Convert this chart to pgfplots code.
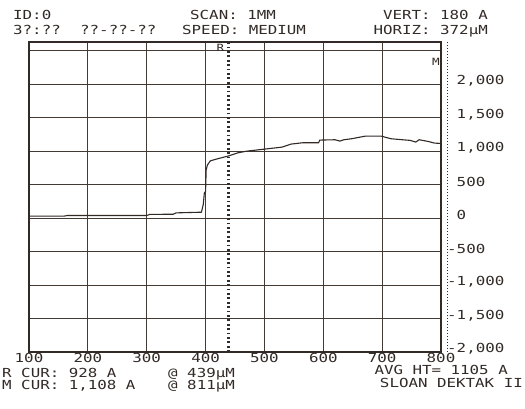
\documentclass[border=0pt]{standalone}
\usepackage{fontspec}
\usepackage{pgfplots}
\pgfplotsset{compat=1.18}
\newfontfamily\dm[FakeStretch=1.27]{DejaVu Sans Mono}
\definecolor{ink}{RGB}{50,42,38}
\definecolor{gridink}{RGB}{68,58,52}
\newcommand{\prn}{\dm\fontsize{12.5}{12.5}\selectfont}
\newcommand{\prnsmall}{\dm\fontsize{10}{10}\selectfont}

% profile trace: scan position (um) vs height (A)
\pgfplotstableread{
x    h
100  30
160  30
165  38
300  38
305  55
345  58
350  78
393  88
396  200
398  380
400  395
401  720
403  790
408  855
420  885
439  928
455  975
470  1000
500  1030
530  1060
545  1105
565  1125
592  1125
594  1165
620  1170
628  1150
635  1170
648  1185
672  1225
698  1225
715  1185
748  1160
757  1135
763  1170
778  1145
789  1120
800  1115
}\profile

\begin{document}
\begin{tikzpicture}[x=1bp,y=1bp]
\useasboundingbox (0,0) rectangle (525,408);
\begin{axis}[
  at={(29bp,56bp)}, anchor=south west,
  scale only axis, width=412bp, height=310bp,
  xmin=100, xmax=800, ymin=-2000, ymax=2630,
  clip=false,
  axis line style={draw=ink, line width=1.7bp},
  grid=major,
  major grid style={draw=gridink, line width=1bp},
  major tick length=0pt,
  tick style={draw=none},
  xtick={100,200,...,800},
  xticklabels={100,200,300,400,500,600,700,800},
  ytick={-2000,-1500,...,2500},
  yticklabels={{-2,000},{-1,500},{-1,000},{-500},{\phantom{-}0},{\phantom{-}500},{\phantom{-}1,000},{\phantom{-}1,500},{\phantom{-}2,000},{}},
  yticklabel pos=right,
  tick label style={font=\prn, text=ink, inner sep=0pt},
  xticklabel style={anchor=north, yshift=-1bp},
  yticklabel style={anchor=west, xshift=6bp, yshift=3bp},
]
% scan trace
\addplot[draw=ink, line width=1.1bp] table[x=x, y=h] {\profile};
% reference cursor R
\addplot[draw=ink, line width=2.2bp, dash pattern=on 1.8bp off 2.6bp] coordinates {(439,-2000) (439,2630)};
% measurement cursor M
\addplot[draw=ink, line width=1.6bp, dash pattern=on 1.3bp off 1.7bp] coordinates {(811,-2000) (811,2630)};
\node[anchor=north east, inner sep=0pt, font=\prnsmall, text=ink] at (axis cs:439,2630) [xshift=-4bp, yshift=-2.5bp] {R};
\node[anchor=north east, inner sep=0pt, font=\prnsmall, text=ink] at (axis cs:800,2390) [xshift=-1bp] {M};
\end{axis}
% header
\begin{scope}[every node/.style={inner sep=0pt, font=\prn, text=ink}]
\node[anchor=base west] at (13,388) {ID:0};
\node[anchor=base west] at (13,374) {3?:??};
\node[anchor=base west] at (80,374) {??-??-??};
\node[anchor=base west] at (190,388) {SCAN: 1MM};
\node[anchor=base west] at (182,374) {SPEED: MEDIUM};
\node[anchor=base east] at (488,388) {VERT: 180 A};
\node[anchor=base east] at (488,374) {HORIZ: 372µM};
% footer
\node[anchor=base west] at (2,31) {R CUR: 928 A};
\node[anchor=base west] at (2,19) {M CUR: 1,108 A};
\node[anchor=base west] at (168,31) {@ 439µM};
\node[anchor=base west] at (168,19) {@ 811µM};
\node[anchor=base east] at (508,34) {AVG HT= 1105 A};
\node[anchor=base east] at (523,21) {SLOAN DEKTAK II};
\end{scope}
\end{tikzpicture}
\end{document}
